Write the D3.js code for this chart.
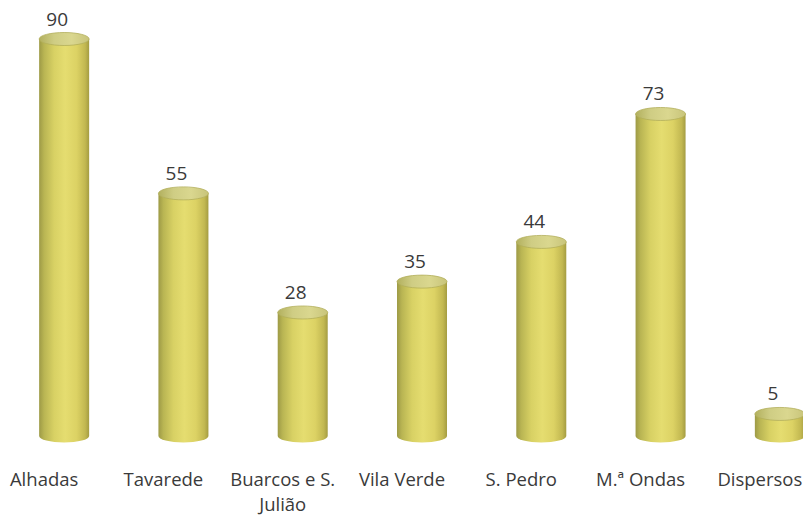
<!DOCTYPE html>
<html>
<head>
<meta charset="utf-8">
<script src="https://cdn.jsdelivr.net/npm/d3@7"></script>
<style>
  html, body { margin: 0; padding: 0; background: #fff; }
  svg { display: block; }
  text { font-family: "Open Sans", Lato, sans-serif; fill: #3a3a3a; }
</style>
</head>
<body>
<svg id="chart" width="803" height="515"></svg>
<script>
// Number of cases per locality
const categories = ["Alhadas", "Tavarede", "Buarcos e S. Julião", "Vila Verde", "S. Pedro", "M.ª Ondas", "Dispersos"];
const labelLines = [["Alhadas"], ["Tavarede"], ["Buarcos e S.", "Julião"], ["Vila Verde"], ["S. Pedro"], ["M.ª Ondas"], ["Dispersos"]];
const values = [90, 55, 28, 35, 44, 73, 5];

const W = 803, H = 515;
const baseY = 436;          // centre of the cylinder base ellipse
const cylW = 50;            // cylinder diameter
const ry = 6.5;             // ellipse vertical radius
const valueShift = -7;      // value labels sit slightly left of the cylinder axis
const catShift = -20;       // category labels sit further left (perspective view)

const svg = d3.select("#chart");

const x = d3.scaleBand().domain(categories).range([4.5, 839.5]).padding(0);
const y = d3.scaleLinear().domain([0, 90]).range([baseY, 39]);

const defs = svg.append("defs");
const sideGrad = defs.append("linearGradient").attr("id", "side").attr("x1", "0").attr("x2", "1").attr("y1", "0").attr("y2", "0");
[["0%", "#9d9a46"], ["10%", "#b9b553"], ["30%", "#d8d164"], ["52%", "#e5dd70"], ["75%", "#dcd264"], ["92%", "#c2b851"], ["100%", "#a49c42"]]
  .forEach(([o, c]) => sideGrad.append("stop").attr("offset", o).attr("stop-color", c));
const capGrad = defs.append("linearGradient").attr("id", "cap").attr("x1", "0").attr("x2", "1").attr("y1", "0").attr("y2", "0");
[["0%", "#b2b05e"], ["30%", "#cfcd84"], ["65%", "#dad78f"], ["100%", "#c8c47a"]]
  .forEach(([o, c]) => capGrad.append("stop").attr("offset", o).attr("stop-color", c));

const g = svg.append("g");
const bars = g.selectAll("g.bar").data(categories).enter().append("g").attr("class", "bar");

bars.each(function (d, i) {
  const sel = d3.select(this);
  const cx = x(d) + x.bandwidth() / 2;
  const rx = cylW / 2;
  const yt = y(values[i]);
  // body: rectangle between the two ellipse centres plus the lower half of the base
  const path = `M${cx - rx},${yt} L${cx - rx},${baseY} A${rx},${ry} 0 0 0 ${cx + rx},${baseY} L${cx + rx},${yt} Z`;
  sel.append("path").attr("d", path).attr("fill", "url(#side)");
  sel.append("ellipse").attr("cx", cx).attr("cy", yt).attr("rx", rx).attr("ry", ry)
    .attr("fill", "url(#cap)").attr("stroke", "#b3ae5a").attr("stroke-width", 0.8);
  sel.append("text").attr("x", cx + valueShift).attr("y", yt - ry - 7)
    .attr("text-anchor", "middle").attr("font-size", 19).text(values[i]);
});

// Category labels under each cylinder
const lab = g.selectAll("text.cat").data(categories).enter().append("text").attr("class", "cat")
  .attr("font-size", 18.5).attr("text-anchor", "middle")
  .attr("y", 486);
lab.each(function (d, i) {
  const t = d3.select(this);
  const cx = x(d) + x.bandwidth() / 2 + catShift;
  labelLines[i].forEach((line, k) => {
    t.append("tspan").attr("x", cx).attr("dy", k === 0 ? 0 : 25).text(line);
  });
});
</script>
</body>
</html>
